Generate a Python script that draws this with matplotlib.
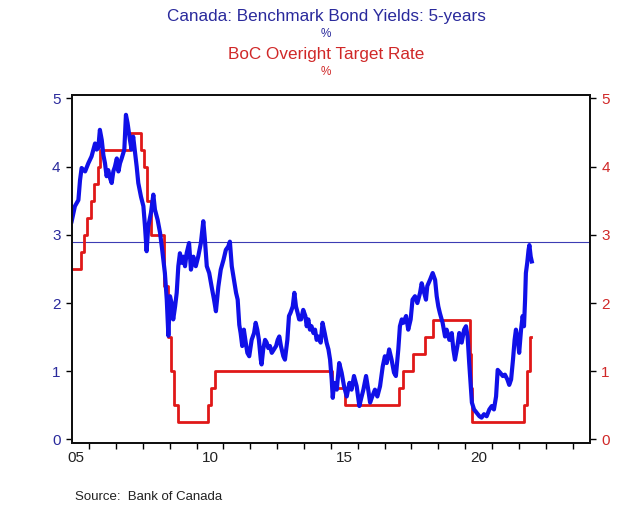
import matplotlib.pyplot as plt
from matplotlib.ticker import NullFormatter

plt.rcParams['font.family'] = ['Liberation Sans', 'DejaVu Sans']

# 5-year benchmark bond yield (decimal year, %)
bond_dates = [
    2005.35, 2005.47, 2005.60, 2005.66, 2005.72, 2005.85, 2005.97, 2006.09, 2006.22, 2006.28,
    2006.34, 2006.40, 2006.47, 2006.53, 2006.59, 2006.65, 2006.71, 2006.78, 2006.84, 2006.90,
    2006.96, 2007.03, 2007.09, 2007.15, 2007.21, 2007.31, 2007.37, 2007.43, 2007.52, 2007.58,
    2007.64, 2007.71, 2007.77, 2007.83, 2007.93, 2008.02, 2008.08, 2008.14, 2008.20, 2008.30,
    2008.39, 2008.45, 2008.55, 2008.64, 2008.72, 2008.82, 2008.89, 2008.95, 2009.01, 2009.07,
    2009.13, 2009.20, 2009.26, 2009.32, 2009.38, 2009.45, 2009.51, 2009.57, 2009.63, 2009.72,
    2009.79, 2009.88, 2009.97, 2010.06, 2010.16, 2010.25, 2010.31, 2010.38, 2010.47, 2010.56,
    2010.65, 2010.72, 2010.81, 2010.90, 2011.00, 2011.09, 2011.18, 2011.24, 2011.31, 2011.39,
    2011.47, 2011.53, 2011.59, 2011.64, 2011.70, 2011.76, 2011.83, 2011.89, 2011.96, 2012.05,
    2012.14, 2012.20, 2012.26, 2012.32, 2012.39, 2012.42, 2012.48, 2012.55, 2012.61, 2012.67,
    2012.73, 2012.80, 2012.88, 2012.96, 2013.02, 2013.08, 2013.14, 2013.23, 2013.29, 2013.38,
    2013.44, 2013.50, 2013.58, 2013.64, 2013.70, 2013.76, 2013.82, 2013.89, 2013.97, 2014.05,
    2014.10, 2014.16, 2014.22, 2014.28, 2014.35, 2014.41, 2014.47, 2014.53, 2014.62, 2014.69,
    2014.77, 2014.84, 2014.91, 2014.97, 2015.03, 2015.07, 2015.12, 2015.22, 2015.31, 2015.40,
    2015.49, 2015.59, 2015.69, 2015.77, 2015.86, 2015.96, 2016.06, 2016.12, 2016.21, 2016.31,
    2016.39, 2016.46, 2016.54, 2016.64, 2016.73, 2016.83, 2016.93, 2017.01, 2017.08, 2017.17,
    2017.26, 2017.35, 2017.42, 2017.51, 2017.57, 2017.64, 2017.70, 2017.80, 2017.88, 2017.97,
    2018.04, 2018.13, 2018.22, 2018.32, 2018.38, 2018.44, 2018.54, 2018.59, 2018.69, 2018.79,
    2018.88, 2018.94, 2019.00, 2019.06, 2019.16, 2019.25, 2019.31, 2019.41, 2019.50, 2019.56,
    2019.62, 2019.71, 2019.78, 2019.87, 2019.96, 2020.03, 2020.09, 2020.15, 2020.20, 2020.25,
    2020.33, 2020.43, 2020.53, 2020.61, 2020.70, 2020.80, 2020.90, 2020.99, 2021.07, 2021.15,
    2021.21, 2021.30, 2021.40, 2021.48, 2021.57, 2021.64, 2021.71, 2021.78, 2021.84, 2021.89,
    2021.96, 2022.01, 2022.08, 2022.14, 2022.19, 2022.23, 2022.26, 2022.31, 2022.36, 2022.39,
    2022.44, 2022.48,
]
bond_yield = [
    3.20, 3.42, 3.51, 3.80, 3.98, 3.93, 4.05, 4.15, 4.34, 4.25,
    4.27, 4.54, 4.39, 4.17, 4.05, 3.86, 3.95, 3.83, 3.76, 3.93,
    4.00, 4.12, 3.93, 4.05, 4.12, 4.25, 4.76, 4.64, 4.39, 4.25,
    4.44, 4.20, 4.00, 3.76, 3.56, 3.42, 3.12, 2.76, 3.12, 3.32,
    3.59, 3.37, 3.22, 3.03, 2.78, 2.44, 2.05, 1.52, 2.10, 2.00,
    1.76, 1.95, 2.15, 2.54, 2.73, 2.59, 2.68, 2.54, 2.73, 2.88,
    2.49, 2.68, 2.54, 2.68, 2.88, 3.20, 2.93, 2.54, 2.44, 2.24,
    2.05, 1.88, 2.24, 2.49, 2.63, 2.78, 2.83, 2.90, 2.54, 2.34,
    2.15, 2.05, 1.68, 1.56, 1.37, 1.61, 1.42, 1.27, 1.22, 1.46,
    1.56, 1.71, 1.61, 1.46, 1.17, 1.10, 1.32, 1.46, 1.42, 1.34,
    1.37, 1.27, 1.32, 1.37, 1.46, 1.51, 1.37, 1.22, 1.17, 1.46,
    1.81, 1.86, 1.95, 2.15, 1.95, 1.86, 1.76, 1.76, 1.90, 1.81,
    1.66, 1.76, 1.61, 1.66, 1.56, 1.61, 1.46, 1.51, 1.42, 1.71,
    1.56, 1.42, 1.32, 1.17, 0.88, 0.61, 0.83, 0.73, 1.12, 0.98,
    0.78, 0.63, 0.83, 0.73, 0.93, 0.78, 0.49, 0.59, 0.73, 0.93,
    0.73, 0.54, 0.63, 0.73, 0.63, 0.78, 1.07, 1.22, 1.12, 1.32,
    1.17, 0.98, 0.93, 1.32, 1.66, 1.76, 1.71, 1.81, 1.61, 1.76,
    2.05, 2.10, 2.00, 2.15, 2.29, 2.20, 2.05, 2.25, 2.34, 2.44,
    2.34, 2.10, 1.95, 1.85, 1.71, 1.51, 1.61, 1.46, 1.56, 1.32,
    1.17, 1.37, 1.56, 1.42, 1.61, 1.66, 1.51, 1.12, 0.83, 0.54,
    0.44, 0.39, 0.34, 0.32, 0.37, 0.34, 0.44, 0.49, 0.44, 0.63,
    1.02, 0.98, 0.93, 0.95, 0.88, 0.80, 0.88, 1.17, 1.46, 1.61,
    1.46, 1.27, 1.61, 1.81, 1.66, 2.05, 2.44, 2.59, 2.78, 2.85,
    2.68, 2.61,
]

# BoC overnight target rate: change dates and new levels (%)
rate_dates = [
    2005.35, 2005.69, 2005.80, 2005.93, 2006.07, 2006.18, 2006.32, 2006.40, 2007.52, 2007.92,
    2008.06, 2008.17, 2008.31, 2008.77, 2008.80, 2008.94, 2009.05, 2009.17, 2009.30, 2010.41,
    2010.55, 2010.69, 2015.05, 2015.54, 2017.53, 2017.68, 2018.05, 2018.52, 2018.81, 2020.17,
    2020.20, 2020.24, 2022.19, 2022.31, 2022.43, 2022.46,
]
rate_level = [
    2.50, 2.75, 3.00, 3.25, 3.50, 3.75, 4.00, 4.25, 4.50, 4.25,
    4.00, 3.50, 3.00, 2.50, 2.25, 1.50, 1.00, 0.50, 0.25, 0.50,
    0.75, 1.00, 0.75, 0.50, 0.75, 1.00, 1.25, 1.50, 1.75, 1.25,
    0.75, 0.25, 0.50, 1.00, 1.50, 1.50,
]

latest_yield = 2.89
year_ticks = list(range(2006, 2025))
label_pos = [2005.5, 2010.5, 2015.5, 2020.5]
label_txt = ["05", "10", "15", "20"]

blue = "#1010e8"
red = "#e01818"
title_blue = "#2a2a9c"
title_red = "#d02828"

fig = plt.figure(figsize=(6.4, 5.31), dpi=100)
ax = fig.add_axes([0.112, 0.166, 0.810, 0.655])

ax.plot(rate_dates, rate_level, color=red, linewidth=2.0, drawstyle="steps-post", zorder=2)
ax.plot(bond_dates, bond_yield, color=blue, linewidth=3.0, zorder=3)
ax.axhline(latest_yield, color="#3c3cb4", linewidth=0.8, zorder=1)

ax.set_xlim(2005.35, 2024.65)
ax.set_ylim(-0.05, 5.05)

ax.set_xticks(year_ticks)
ax.xaxis.set_major_formatter(NullFormatter())
ax.set_xticks(label_pos, minor=True)
ax.set_xticklabels(label_txt, minor=True)
ax.tick_params(axis="x", which="major", direction="out", length=4, width=1)
ax.tick_params(axis="x", which="minor", length=0, labelsize=11, pad=6, labelcolor="#222222")

ax.set_yticks(range(6))
ax.tick_params(axis="y", direction="out", length=4, width=1, labelsize=11,
               labelcolor=title_blue, pad=4)

ax2 = ax.twinx()
ax2.set_ylim(ax.get_ylim())
ax2.set_yticks(range(6))
ax2.tick_params(axis="y", direction="out", length=4, width=1, labelsize=11,
                labelcolor=title_red, pad=4)

for a in (ax, ax2):
    for s in a.spines.values():
        s.set_linewidth(1.4)
        s.set_color("#111111")

cx = 326 / 640
fig.text(cx, 1 - 16 / 531, "Canada: Benchmark Bond Yields: 5-years", color=title_blue,
         fontsize=12.3, ha="center", va="center")
fig.text(cx, 1 - 34 / 531, "%", color=title_blue, fontsize=8.5, ha="center", va="center")
fig.text(cx, 1 - 55 / 531, "BoC Overight Target Rate", color=title_red,
         fontsize=12.3, ha="center", va="center")
fig.text(cx, 1 - 72 / 531, "%", color=title_red, fontsize=8.5, ha="center", va="center")
fig.text(75 / 640, 1 - 497 / 531, "Source:  Bank of Canada", color="#222222",
         fontsize=9.5, ha="left", va="center")

fig.savefig("out.png", dpi=100)
